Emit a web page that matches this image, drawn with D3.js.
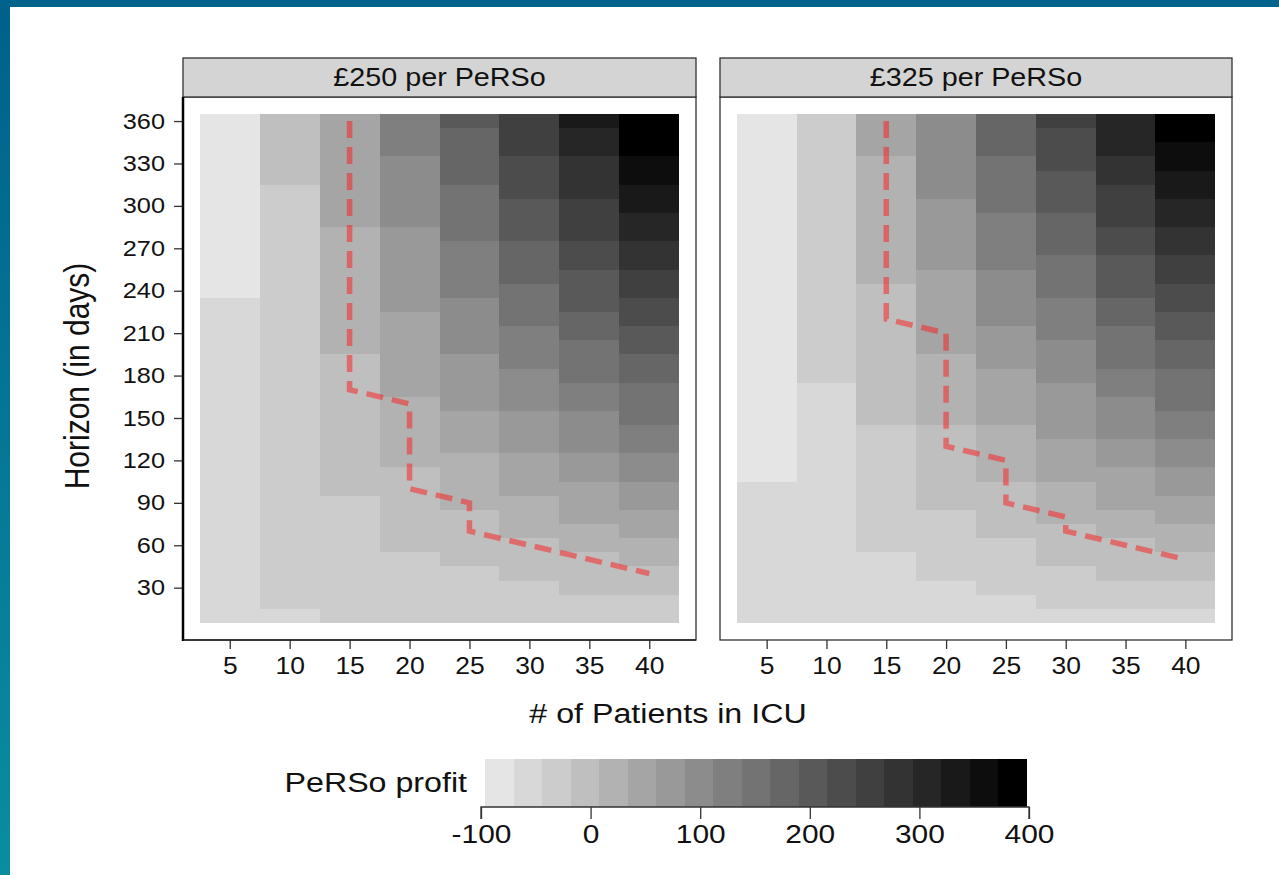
<html>
  <head>
    <meta charset="utf-8" />
    <script src="https://cdnjs.cloudflare.com/ajax/libs/d3/7.6.1/d3.min.js"></script>
    <style>
      body { margin: 0; background: #fff; }
      svg { display: block; }
      text { font-family: "Liberation Sans", Arial, sans-serif; fill: #111; }
    </style>
  </head>
  <body>
    <svg width="1279" height="875"></svg>
  </body>

  <script>
    // facets, axes
    let panels = ["£250 per PeRSo", "£325 per PeRSo"];
    let patients = [5, 10, 15, 20, 25, 30, 35, 40];
    let horizons = [10, 20, 30, 40, 50, 60, 70, 80, 90, 100, 110, 120, 130, 140, 150, 160, 170, 180,
                    190, 200, 210, 220, 230, 240, 250, 260, 270, 280, 290, 300, 310, 320, 330, 340, 350, 360];
    let yTicks = [30, 60, 90, 120, 150, 180, 210, 240, 270, 300, 330, 360];
    let legendTicks = [-100, 0, 100, 200, 300, 400];

    let bands250 = [
      [[240, 360, -83], [10, 230, -57]],
      [[320, 360, -5], [20, 310, -31], [10, 10, -57]],
      [[290, 360, 47], [200, 280, 21], [100, 190, -5], [10, 90, -31]],
      [[340, 360, 125], [290, 330, 99], [230, 280, 73], [170, 220, 47], [120, 160, 21], [60, 110, -5], [10, 50, -31]],
      [[360, 360, 203], [320, 350, 177], [280, 310, 151], [240, 270, 125], [200, 230, 99], [160, 190, 73],
       [130, 150, 47], [90, 120, 21], [50, 80, -5], [10, 40, -31]],
      [[340, 360, 255], [310, 330, 229], [280, 300, 203], [250, 270, 177], [220, 240, 151], [190, 210, 125],
       [160, 180, 99], [130, 150, 73], [100, 120, 47], [70, 90, 21], [40, 60, -5], [10, 30, -31]],
      [[360, 360, 333], [340, 350, 307], [310, 330, 281], [280, 300, 255], [260, 270, 229], [230, 250, 203],
       [210, 220, 177], [180, 200, 151], [160, 170, 125], [130, 150, 99], [110, 120, 73], [80, 100, 47],
       [60, 70, 21], [30, 50, -5], [10, 20, -31]],
      [[340, 360, 385], [320, 330, 359], [300, 310, 333], [280, 290, 307], [260, 270, 281], [240, 250, 255],
       [220, 230, 229], [200, 210, 203], [180, 190, 177], [150, 170, 151], [130, 140, 125], [110, 120, 99],
       [90, 100, 73], [70, 80, 47], [50, 60, 21], [30, 40, -5], [10, 20, -31]]
    ];
    let bands325 = [
      [[110, 360, -83], [10, 100, -57]],
      [[180, 360, -31], [10, 170, -57]],
      [[340, 360, 47], [250, 330, 21], [150, 240, -5], [60, 140, -31], [10, 50, -57]],
      [[310, 360, 99], [260, 300, 73], [200, 250, 47], [150, 190, 21], [90, 140, -5], [40, 80, -31], [10, 30, -57]],
      [[340, 360, 177], [300, 330, 151], [260, 290, 125], [220, 250, 99], [190, 210, 73], [150, 180, 47],
       [110, 140, 21], [70, 100, -5], [30, 60, -31], [10, 20, -57]],
      [[360, 360, 255], [330, 350, 229], [300, 320, 203], [270, 290, 177], [240, 260, 151], [210, 230, 125],
       [180, 200, 99], [140, 170, 73], [110, 130, 47], [80, 100, 21], [50, 70, -5], [20, 40, -31], [10, 10, -57]],
      [[340, 360, 307], [320, 330, 281], [290, 310, 255], [270, 280, 229], [240, 260, 203], [220, 230, 177],
       [190, 210, 151], [170, 180, 125], [140, 160, 99], [120, 130, 73], [90, 110, 47], [70, 80, 21],
       [40, 60, -5], [20, 30, -31], [10, 10, -57]],
      [[350, 360, 385], [330, 340, 359], [310, 320, 333], [290, 300, 307], [270, 280, 281], [250, 260, 255],
       [230, 240, 229], [210, 220, 203], [190, 200, 177], [160, 180, 151], [140, 150, 125], [120, 130, 99],
       [100, 110, 73], [80, 90, 47], [60, 70, 21], [40, 50, -5], [20, 30, -31], [10, 10, -57]]
    ];

    // dashed red break-even line
    let line250 = [[15, 360], [15, 170], [20, 160], [20, 100], [25, 90], [25, 70], [30, 60], [35, 50], [40, 40]];
    let line325 = [[15, 360], [15, 220], [20, 210], [20, 130], [25, 120], [25, 90], [30, 80], [30, 70], [35, 60], [40, 50]];

    let SX = 1.15; // the picture is a little wide, so text is stretched to match

    function stretch(sel) {
      sel.each(function () {
        let t = d3.select(this);
        let x = +t.attr("x") || 0;
        let y = +t.attr("y") || 0;
        let r = t.attr("data-rot");
        t.attr("transform", `translate(${x},${y}) scale(${SX},1)` + (r ? ` rotate(${r})` : ""))
          .attr("x", 0).attr("y", 0);
      });
    }

    let svg = d3.select("svg");

    // blue slide frame
    let grad = svg.append("defs").append("linearGradient").attr("id", "edge")
      .attr("x1", 0).attr("y1", 0).attr("x2", 0).attr("y2", 1);
    grad.append("stop").attr("offset", 0).attr("stop-color", "#00618b");
    grad.append("stop").attr("offset", 1).attr("stop-color", "#0a8da0");
    svg.append("rect").attr("x", 0).attr("y", 0).attr("width", 1279).attr("height", 7).attr("fill", "#00638c");
    svg.append("rect").attr("x", 0).attr("y", 0).attr("width", 10).attr("height", 875).attr("fill", "url(#edge)");

    let fill = d3.scaleLinear().domain([-83, 385]).range(["#e5e5e5", "#000000"]).clamp(true);

    let y = d3.scaleLinear().domain([-7, 377]).range([640, 97]);
    let panelX = [[183, 696], [720, 1232]];
    let allBands = [bands250, bands325];
    let allLines = [line250, line325];

    let path = d3.line();

    panelX.forEach((px, p) => {
      let x = d3.scaleLinear().domain([1.1, 43.9]).range(px);
      let g = svg.append("g");

      let cells = [];
      allBands[p].forEach((col, i) => {
        col.forEach(([h0, h1, v]) => {
          horizons.filter((h) => h >= h0 && h <= h1).forEach((h) => cells.push({ n: patients[i], h: h, v: v }));
        });
      });

      g.append("g").attr("shape-rendering", "crispEdges")
        .selectAll("rect").data(cells).enter().append("rect")
        .attr("x", (d) => x(d.n - 2.5))
        .attr("width", (d) => x(d.n + 2.5) - x(d.n - 2.5))
        .attr("y", (d) => y(d.h + 5))
        .attr("height", (d) => y(d.h - 5) - y(d.h + 5))
        .attr("fill", (d) => fill(d.v));

      g.append("path")
        .attr("d", path(allLines[p].map((d) => [x(d[0]), y(d[1])])))
        .attr("fill", "none")
        .attr("stroke", "#ff1a1a")
        .attr("stroke-opacity", 0.5)
        .attr("stroke-width", 5.5)
        .attr("stroke-dasharray", "17,9");

      // panel border
      g.append("rect").attr("x", px[0]).attr("y", 97).attr("width", px[1] - px[0]).attr("height", 543)
        .attr("fill", "none").attr("stroke", "#333").attr("stroke-width", 1.3);

      // strip
      g.append("rect").attr("x", px[0]).attr("y", 58).attr("width", px[1] - px[0]).attr("height", 39)
        .attr("fill", "#d4d4d4").attr("stroke", "#333").attr("stroke-width", 1.3);
      g.append("text").attr("x", (px[0] + px[1]) / 2).attr("y", 86)
        .attr("text-anchor", "middle").style("font-size", "25px")
        .text(panels[p]).call(stretch);

      let xAxis = g.append("g").attr("transform", "translate(0,640)")
        .call(d3.axisBottom(x).tickValues(patients).tickSize(9).tickPadding(9));
      xAxis.select(".domain").remove();
      xAxis.selectAll("line").attr("stroke", "#333").attr("stroke-width", 1.3);
      xAxis.selectAll("text").style("font-size", "23px").attr("fill", "#111").call(stretch);

      if (p === 0) {
        let yAxis = g.append("g").attr("transform", `translate(${px[0]},0)`)
          .call(d3.axisLeft(y).tickValues(yTicks).tickSize(9).tickPadding(9));
        yAxis.select(".domain").remove();
        yAxis.selectAll("line").attr("stroke", "#333").attr("stroke-width", 1.3);
        yAxis.selectAll("text").style("font-size", "22px").attr("fill", "#111").call(stretch);
        g.append("line").attr("x1", px[0]).attr("x2", px[0]).attr("y1", 97).attr("y2", 641)
          .attr("stroke", "#000").attr("stroke-width", 2.5);
        g.append("line").attr("x1", px[0]).attr("x2", px[1]).attr("y1", 640).attr("y2", 640)
          .attr("stroke", "#222").attr("stroke-width", 1.6);
      }
    });

    // axis titles
    svg.append("text").attr("x", 668).attr("y", 723).attr("text-anchor", "middle")
      .style("font-size", "28px").text("# of Patients in ICU").call(stretch);
    svg.append("text").attr("x", 89).attr("y", 376).attr("data-rot", -90).attr("text-anchor", "middle")
      .style("font-size", "30px").text("Horizon (in days)").call(stretch);

    // legend
    let lx = d3.scaleLinear().domain([-100, 400]).range([481, 1029]);
    let bins = d3.range(-96, 398, 26);
    svg.append("g").attr("shape-rendering", "crispEdges")
      .selectAll("rect").data(bins).enter().append("rect")
      .attr("x", (d) => lx(d))
      .attr("width", lx(26) - lx(0))
      .attr("y", 759)
      .attr("height", 48)
      .attr("fill", (d) => fill(d + 13));

    let lAxis = svg.append("g").attr("transform", "translate(0,807)")
      .call(d3.axisBottom(lx).tickValues(legendTicks).tickFormat((d) => String(d)).tickSize(12).tickPadding(6));
    lAxis.select(".domain").attr("d", `M${lx(-100)},12V0H${lx(400)}V12`).attr("stroke", "#333").attr("stroke-width", 1.3);
    lAxis.selectAll("line").attr("stroke", "#333").attr("stroke-width", 1.3);
    lAxis.selectAll("text").style("font-size", "26px").attr("fill", "#111").call(stretch);

    svg.append("text").attr("x", 467).attr("y", 792).attr("text-anchor", "end")
      .style("font-size", "28px").text("PeRSo profit").call(stretch);
  </script>
</html>
